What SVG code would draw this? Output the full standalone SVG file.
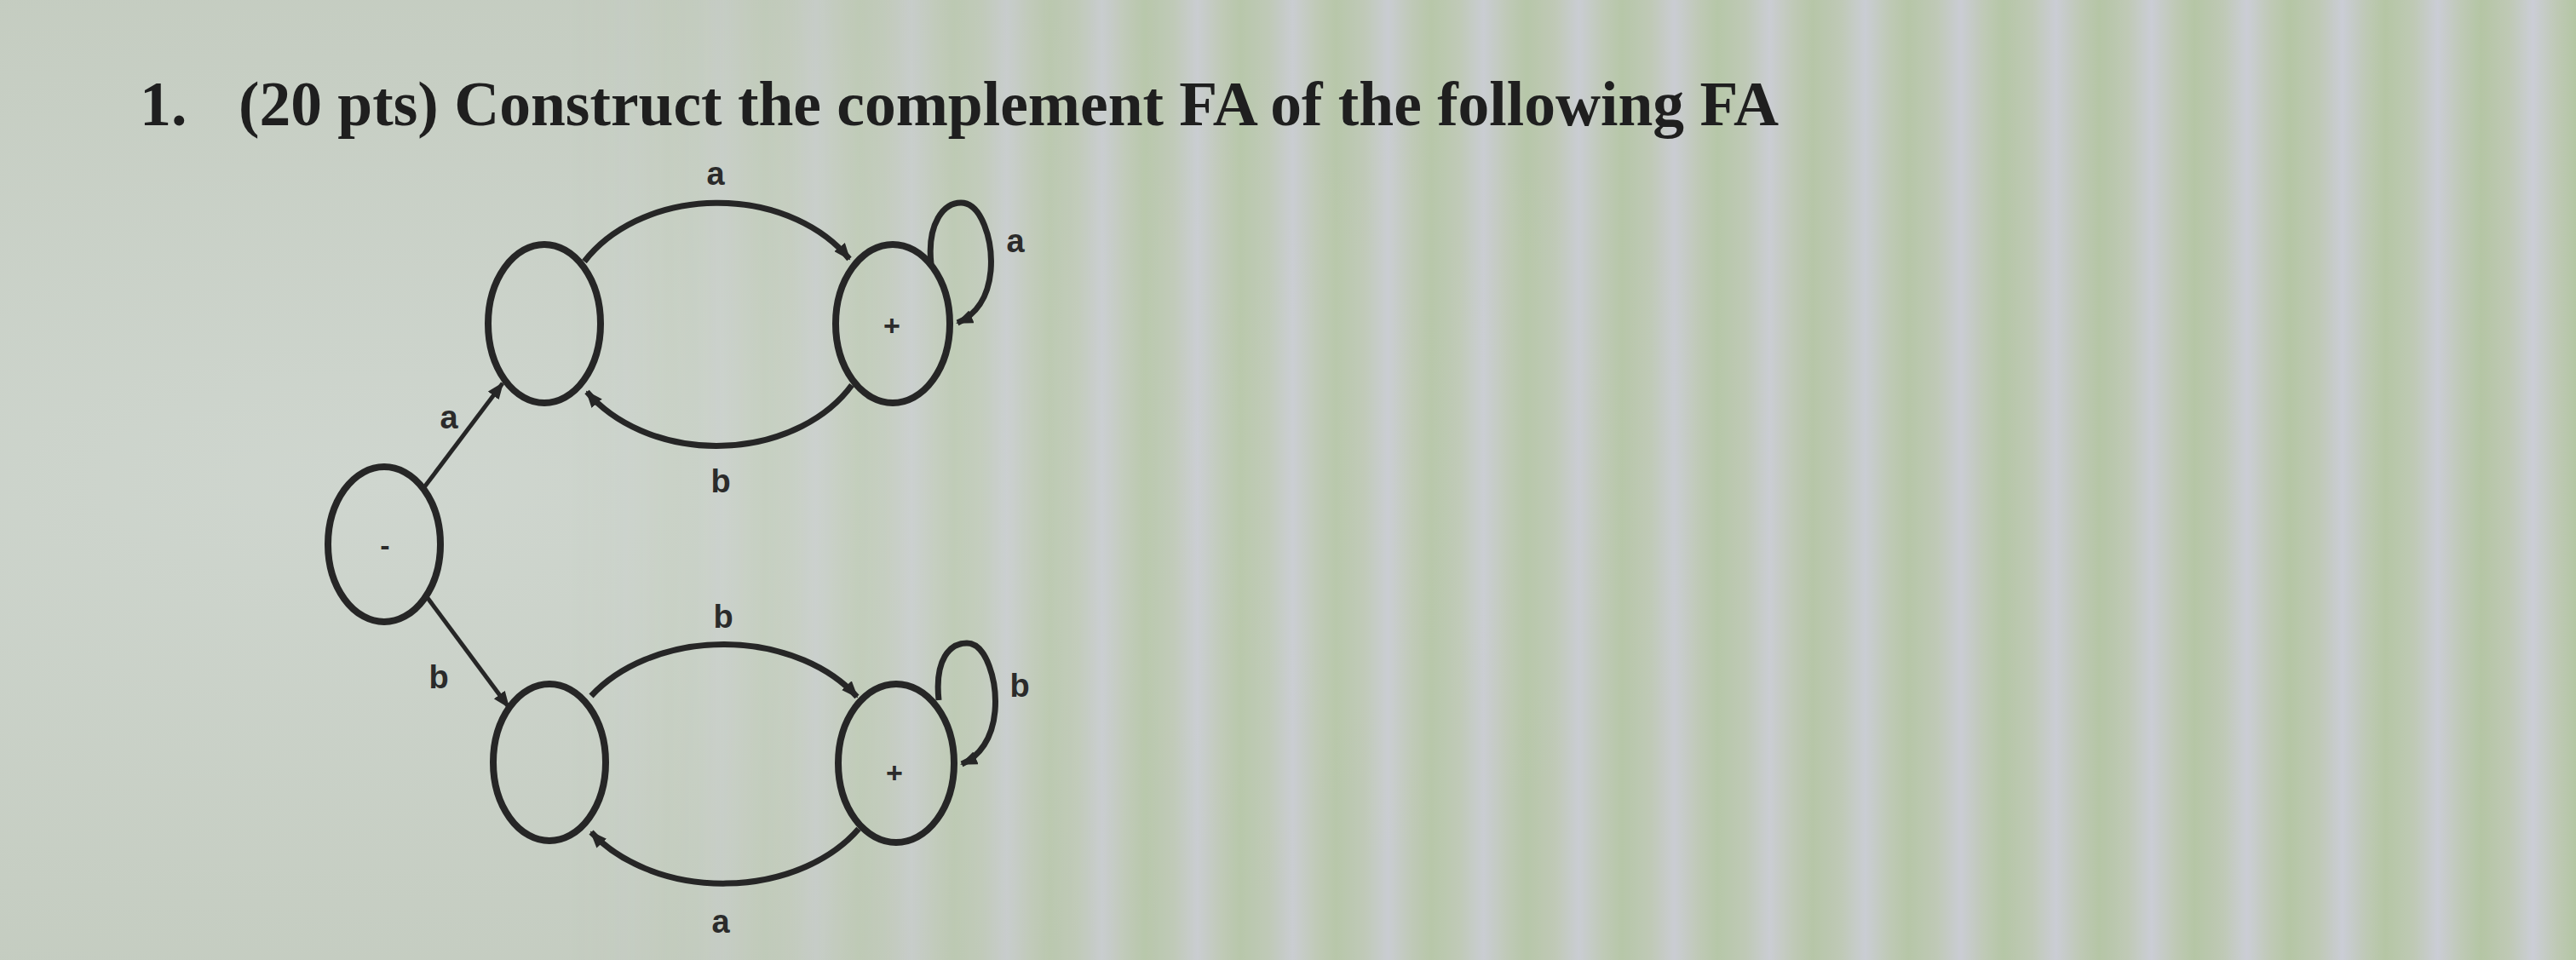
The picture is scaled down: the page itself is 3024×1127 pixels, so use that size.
<svg xmlns="http://www.w3.org/2000/svg" width="3024" height="1127" viewBox="0 0 3024 1127">
  <defs>
    <linearGradient id="stripeGrad" x1="0" y1="0" x2="1" y2="0">
      <stop offset="0" stop-color="#b0c49c"/>
      <stop offset="0.3" stop-color="#bdc8b2"/>
      <stop offset="0.55" stop-color="#cdcddc"/>
      <stop offset="0.8" stop-color="#bdc8b2"/>
      <stop offset="1" stop-color="#b0c49c"/>
    </linearGradient>
    <pattern id="stripes" x="0" y="0" width="112" height="1127" patternUnits="userSpaceOnUse">
      <rect x="0" y="0" width="112" height="1127" fill="url(#stripeGrad)"/>
    </pattern>
    <linearGradient id="fadeGrad" x1="0" y1="0" x2="3024" y2="0" gradientUnits="userSpaceOnUse">
      <stop offset="0.22" stop-color="#fff" stop-opacity="0"/>
      <stop offset="0.45" stop-color="#fff" stop-opacity="0.6"/>
      <stop offset="1" stop-color="#fff" stop-opacity="0.8"/>
    </linearGradient>
    <mask id="fadeMask">
      <rect x="0" y="0" width="3024" height="1127" fill="url(#fadeGrad)"/>
    </mask>
    <radialGradient id="leftGlow" cx="0.15" cy="0.5" r="0.55">
      <stop offset="0" stop-color="#cfd6cf"/>
      <stop offset="1" stop-color="#c4ccc0"/>
    </radialGradient>
    <marker id="arrow" viewBox="0 0 20 16" refX="18" refY="8" markerWidth="20" markerHeight="16" markerUnits="userSpaceOnUse" orient="auto">
      <path d="M0,0 L20,8 L0,16 Z" fill="#262626"/>
    </marker>
    <style>
      .state { fill: none; stroke: #262626; stroke-width: 8; }
      .edge { fill: none; stroke: #262626; stroke-width: 7; }
      .line { fill: none; stroke: #262626; stroke-width: 5; }
      .lbl { font-family: "Liberation Sans", Arial, sans-serif; font-weight: bold; font-size: 38px; fill: #2b2b2b; text-anchor: middle; }
      .mark { font-family: "Liberation Sans", Arial, sans-serif; font-weight: bold; font-size: 34px; fill: #2b2b2b; text-anchor: middle; }
      .title { font-family: "Liberation Serif", "Times New Roman", serif; font-weight: bold; font-size: 74px; fill: #1f1f1f; }
    </style>
  </defs>

  <!-- background -->
  <rect x="0" y="0" width="3024" height="1127" fill="url(#leftGlow)"/>
  <rect x="0" y="0" width="3024" height="1127" fill="url(#stripes)" mask="url(#fadeMask)"/>

  <!-- title -->
  <text class="title" x="164" y="147">1.</text>
  <text class="title" x="280" y="147" textLength="1808" lengthAdjust="spacingAndGlyphs">(20 pts) Construct the complement FA of the following FA</text>

  <!-- connectors -->
  <g id="connectors">
    <line class="line" x1="498" y1="572" x2="590" y2="450" marker-end="url(#arrow)"/>
    <line class="line" x1="502" y1="702" x2="597" y2="830" marker-end="url(#arrow)"/>
    <path class="edge" d="M 686 307 A 182 140 0 0 1 997 304" marker-end="url(#arrow)"/>
    <path class="edge" d="M 1000 452 A 182 140 0 0 1 689 460" marker-end="url(#arrow)"/>
    <path class="edge" d="M 1093 310 C 1088 262, 1108 238, 1128 238 C 1152 238, 1166 282, 1163 318 C 1160 350, 1145 370, 1124 379" marker-end="url(#arrow)"/>
    <path class="edge" d="M 694 817 A 188 138 0 0 1 1006 818" marker-end="url(#arrow)"/>
    <path class="edge" d="M 1008 973 A 188 138 0 0 1 694 977" marker-end="url(#arrow)"/>
    <path class="edge" d="M 1102 822 C 1097 774, 1115 755, 1135 755 C 1158 755, 1171 800, 1168 835 C 1165 867, 1150 888, 1129 897" marker-end="url(#arrow)"/>
    <text class="lbl" x="527" y="503">a</text>
    <text class="lbl" x="515" y="808">b</text>
    <text class="lbl" x="840" y="217">a</text>
    <text class="lbl" x="846" y="578">b</text>
    <text class="lbl" x="1192" y="296">a</text>
    <text class="lbl" x="849" y="737">b</text>
    <text class="lbl" x="846" y="1095">a</text>
    <text class="lbl" x="1197" y="818">b</text>
  </g>

  <!-- nodes -->
  <g id="node-start">
    <ellipse class="state" cx="451" cy="639" rx="66" ry="91"/>
    <text class="mark" x="452" y="652">-</text>
  </g>
  <g id="node-top-left">
    <ellipse class="state" cx="639" cy="380" rx="66" ry="93"/>
  </g>
  <g id="node-top-right">
    <ellipse class="state" cx="1048" cy="380" rx="67" ry="93"/>
    <text class="mark" x="1047" y="394">+</text>
  </g>
  <g id="node-bottom-left">
    <ellipse class="state" cx="645" cy="895" rx="66" ry="92"/>
  </g>
  <g id="node-bottom-right">
    <ellipse class="state" cx="1052" cy="896" rx="68" ry="93"/>
    <text class="mark" x="1050" y="919">+</text>
  </g>
</svg>
